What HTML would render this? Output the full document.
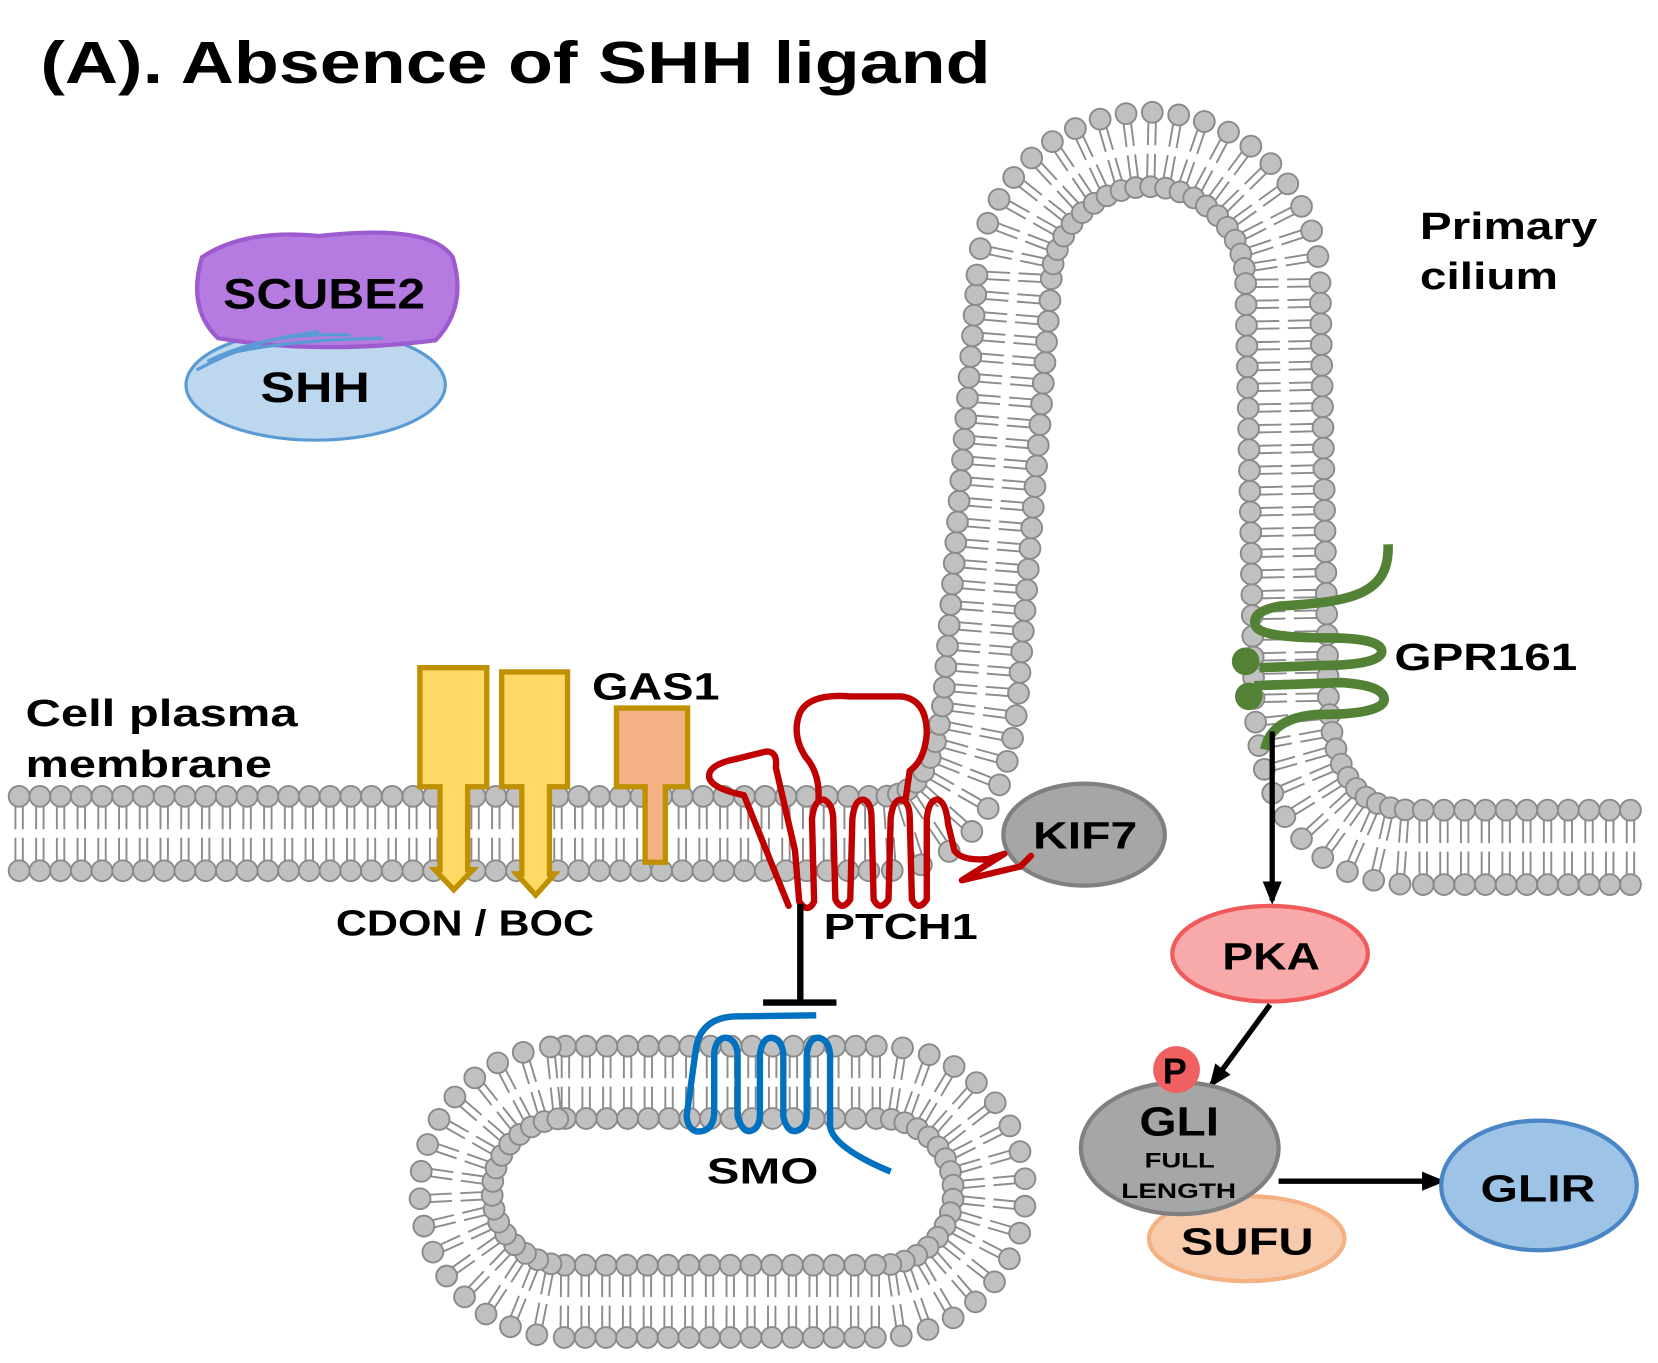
<!DOCTYPE html>
<html><head><meta charset="utf-8"><style>
html,body{margin:0;padding:0;background:#fff;}
svg{display:block;}
text{font-family:"Liberation Sans",Arial,sans-serif;font-weight:bold;fill:#000;}
</style></head><body>
<svg id="s" width="1658" height="1363" viewBox="0 0 1560 1282" preserveAspectRatio="none" xmlns="http://www.w3.org/2000/svg">
<defs>
<marker id="ah" markerWidth="22" markerHeight="22" refX="18" refY="11" orient="auto" markerUnits="userSpaceOnUse" viewBox="0 0 22 22">
<path d="M0,2 L22,11 L0,20 Z" fill="#000"/></marker>
</defs>
<g id="mem"></g>
<path id="p1" d="M 18 784 L 830 784 C 885 784 918 740 924 640 L 954 267 A 126.5 126.5 0 0 1 1207 267 L 1215 660 C 1220 760 1268 797 1330 797 L 1540 797" fill="none" stroke="none"/>
<path id="p2" d="M 532 1018 L 828 1018 A 103 103 0 0 1 828 1224 L 532 1224 A 103 103 0 0 1 532 1018 Z" fill="none" stroke="none"/>

<text x="38" y="78" font-size="56" textLength="894" lengthAdjust="spacingAndGlyphs">(A). Absence of SHH ligand</text>

<ellipse cx="297" cy="362" rx="122" ry="52" fill="#bdd7ee" stroke="#5b9bd5" stroke-width="3"/>
<path d="M 190 242 Q 230 215 300 222 Q 405 210 426 242 Q 440 288 410 320 Q 300 334 205 318 Q 176 290 190 242 Z" fill="#b57be0" stroke="#9e5bd0" stroke-width="4"/>
<path d="M 185 348 Q 240 318 300 312 M 195 340 Q 250 312 330 315 M 205 335 Q 260 320 360 318" fill="none" stroke="#5b9bd5" stroke-width="3"/>
<text x="210" y="290" font-size="40" textLength="190" lengthAdjust="spacingAndGlyphs" fill="#1a1a1a">SCUBE2</text>
<text x="245" y="378" font-size="40" textLength="103" lengthAdjust="spacingAndGlyphs" fill="#1a1a1a">SHH</text>

<text x="1336" y="225" font-size="36" textLength="167" lengthAdjust="spacingAndGlyphs">Primary</text>
<text x="1336" y="272" font-size="36" textLength="130" lengthAdjust="spacingAndGlyphs">cilium</text>
<text x="24" y="683" font-size="36" textLength="256" lengthAdjust="spacingAndGlyphs">Cell plasma</text>
<text x="24" y="731" font-size="36" textLength="232" lengthAdjust="spacingAndGlyphs">membrane</text>

<path d="M 395 628 L 458 628 L 458 740 L 440 740 L 440 818 L 445 818 L 427 837 L 409 818 L 414 818 L 414 740 L 395 740 Z" fill="#ffd966" stroke="#bf9000" stroke-width="5"/>
<path d="M 472 632 L 534 632 L 534 740 L 517 740 L 517 822 L 522 822 L 504 842 L 486 822 L 491 822 L 491 740 L 472 740 Z" fill="#ffd966" stroke="#bf9000" stroke-width="5"/>
<path d="M 580 666 L 647 666 L 647 740 L 626 740 L 626 811 L 607 811 L 607 740 L 580 740 Z" fill="#f4b183" stroke="#bf9000" stroke-width="5"/>
<text x="557" y="658" font-size="36" textLength="120" lengthAdjust="spacingAndGlyphs">GAS1</text>
<text x="316" y="880" font-size="34" textLength="243" lengthAdjust="spacingAndGlyphs">CDON / BOC</text>

<ellipse cx="1020" cy="785" rx="76" ry="48" fill="#a6a6a6" stroke="#808080" stroke-width="4"/>
<text x="972" y="798" font-size="36" textLength="98" lengthAdjust="spacingAndGlyphs">KIF7</text>

<path d="M 742 852 L 700 748 Q 662 740 668 726 Q 672 718 692 714 L 720 707 Q 732 706 730 722 L 748 800 L 752 848 Q 760 860 766 848 L 764 770 Q 766 752 775 752 Q 784 756 784 772 L 786 846 Q 792 858 800 846 L 802 770 Q 804 752 812 752 Q 820 754 820 770 L 822 846 Q 828 858 836 846 L 838 770 Q 840 752 848 752 Q 856 754 856 770 L 858 846 Q 864 858 872 846 L 872 770 Q 874 752 882 752 Q 890 754 892 775 L 898 800 Q 905 810 930 808 L 945 803 L 905 828 L 960 815 L 970 805" fill="none" stroke="#c00000" stroke-width="6" stroke-linejoin="round" stroke-linecap="round"/>
<path d="M 770 754 Q 772 728 758 712 Q 745 692 752 672 Q 760 652 800 655 L 848 655 Q 872 658 872 690 Q 870 715 856 725 L 852 752" fill="none" stroke="#c00000" stroke-width="6" stroke-linejoin="round"/>
<text x="775" y="883" font-size="34" textLength="145" lengthAdjust="spacingAndGlyphs">PTCH1</text>

<line x1="753" y1="850" x2="753" y2="943" stroke="#000" stroke-width="6"/>
<line x1="718" y1="943" x2="787" y2="943" stroke="#000" stroke-width="6"/>

<path d="M 768 955 L 690 956 Q 660 958 655 985 L 646 1050 Q 648 1066 660 1064 Q 672 1062 672 1045 L 672 990 Q 674 976 683 976 Q 693 978 694 992 L 694 1050 Q 698 1064 705 1064 Q 715 1062 715 1048 L 715 992 Q 717 976 726 976 Q 736 978 737 992 L 737 1050 Q 740 1064 748 1064 Q 759 1062 759 1048 L 759 992 Q 761 976 770 976 Q 780 978 781 992 L 781 1060 Q 785 1080 838 1102" fill="none" stroke="#0070c0" stroke-width="6" stroke-linejoin="round"/>
<text x="665" y="1113" font-size="34" textLength="105" lengthAdjust="spacingAndGlyphs">SMO</text>

<path d="M 1306 512 C 1308 560 1270 566 1205 570 Q 1175 575 1182 590 Q 1190 600 1250 600 Q 1302 600 1300 614 Q 1296 626 1240 626 L 1185 628 M 1180 645 L 1262 642 Q 1306 645 1302 660 Q 1296 672 1240 672 Q 1196 675 1190 705" fill="none" stroke="#538135" stroke-width="9" stroke-linejoin="round"/>
<circle cx="1172" cy="622" r="13" fill="#538135"/>
<circle cx="1175" cy="655" r="13" fill="#538135"/>
<text x="1312" y="630" font-size="36" textLength="172" lengthAdjust="spacingAndGlyphs">GPR161</text>

<line x1="1197" y1="688" x2="1197" y2="847" stroke="#000" stroke-width="5" marker-end="url(#ah)"/>
<ellipse cx="1195" cy="897" rx="92" ry="45" fill="#f8a9a9" stroke="#f05a5a" stroke-width="4"/>
<text x="1150" y="912" font-size="36" textLength="92" lengthAdjust="spacingAndGlyphs">PKA</text>
<line x1="1195" y1="945" x2="1140" y2="1020" stroke="#000" stroke-width="5" marker-end="url(#ah)"/>

<ellipse cx="1173" cy="1165" rx="92" ry="40" fill="#f8cbad" stroke="#f4b183" stroke-width="4"/>
<ellipse cx="1110" cy="1080" rx="93" ry="62" fill="#a6a6a6" stroke="#808080" stroke-width="4"/>
<circle cx="1107" cy="1006" r="22" fill="#f06060"/>
<text x="1094" y="1019" font-size="34">P</text>
<text x="1072" y="1068" font-size="38" textLength="75" lengthAdjust="spacingAndGlyphs">GLI</text>
<text x="1077" y="1098" font-size="20" textLength="66" lengthAdjust="spacingAndGlyphs">FULL</text>
<text x="1055" y="1127" font-size="20" textLength="108" lengthAdjust="spacingAndGlyphs">LENGTH</text>
<text x="1111" y="1180" font-size="36" textLength="125" lengthAdjust="spacingAndGlyphs">SUFU</text>

<line x1="1203" y1="1111" x2="1356" y2="1111" stroke="#000" stroke-width="5" marker-end="url(#ah)"/>
<ellipse cx="1448" cy="1115" rx="92" ry="61" fill="#9dc3e6" stroke="#4a86c5" stroke-width="4"/>
<text x="1393" y="1130" font-size="36" textLength="108" lengthAdjust="spacingAndGlyphs">GLIR</text>
</svg>
<script>
(function(){
var NS="http://www.w3.org/2000/svg",g=document.getElementById("mem");
function build(id,h,step){
  var p=document.getElementById(id),L=p.getTotalLength(),tails="",beads="";
  for(var s=0;s<=L;s+=step){
    var a=p.getPointAtLength(s),b=p.getPointAtLength(Math.min(L,s+1)),c=p.getPointAtLength(Math.max(0,s-1));
    var tx=b.x-c.x,ty=b.y-c.y,n=Math.hypot(tx,ty)||1;tx/=n;ty/=n;var nx=-ty,ny=tx;
    [1,-1].forEach(function(sg){
      var bx=a.x+nx*h*sg,by=a.y+ny*h*sg;
      [-3.5,3.5].forEach(function(o){
        var x1=bx+tx*o-nx*sg*8,y1=by+ty*o-ny*sg*8,x2=a.x+tx*o+nx*sg*4,y2=a.y+ty*o+ny*sg*4;
        tails+="M"+x1.toFixed(1)+" "+y1.toFixed(1)+"L"+x2.toFixed(1)+" "+y2.toFixed(1);
      });
      beads+='<circle cx="'+bx.toFixed(1)+'" cy="'+by.toFixed(1)+'" r="9.8"/>';
    });
  }
  var t=document.createElementNS(NS,"path");t.setAttribute("d",tails);t.setAttribute("stroke","#8c8c8c");t.setAttribute("stroke-width","1.8");t.setAttribute("fill","none");g.appendChild(t);
  var bg=document.createElementNS(NS,"g");bg.setAttribute("fill","#c0c0c0");bg.setAttribute("stroke","#8a8a8a");bg.setAttribute("stroke-width","1.8");bg.innerHTML=beads;g.appendChild(bg);
}
build("p1",35,19.5);build("p2",34,19.5);
})();
</script>
</body></html>
